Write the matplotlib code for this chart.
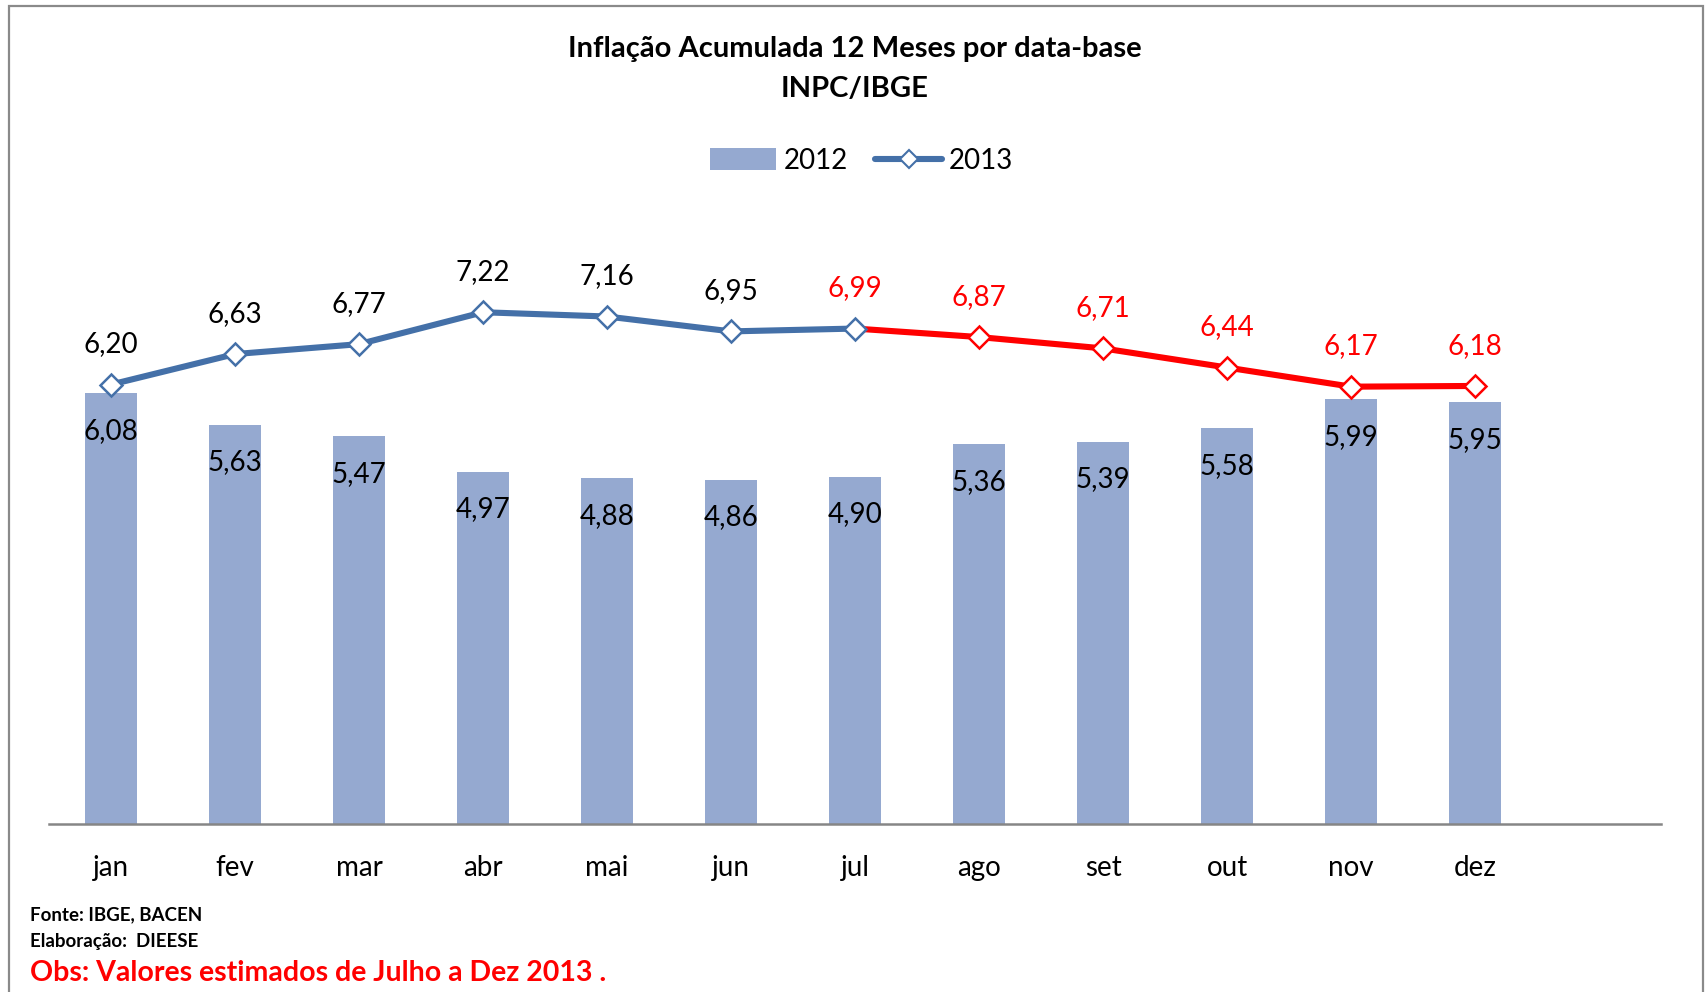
import numpy as np
import matplotlib.pyplot as plt
from matplotlib.lines import Line2D
from matplotlib.patches import Patch, Rectangle

plt.rcParams['font.family'] = ['Lato', 'DejaVu Sans']

meses = ['jan', 'fev', 'mar', 'abr', 'mai', 'jun', 'jul', 'ago', 'set', 'out', 'nov', 'dez']
inpc_2012 = [6.08, 5.63, 5.47, 4.97, 4.88, 4.86, 4.90, 5.36, 5.39, 5.58, 5.99, 5.95]
inpc_2013 = [6.20, 6.63, 6.77, 7.22, 7.16, 6.95, 6.99, 6.87, 6.71, 6.44, 6.17, 6.18]
inicio_estimado = 6  # julho

azul_barra = '#95a9d0'
azul_linha = '#4470a8'
vermelho = '#ff0000'

def fmt(v):
    return f'{v:.2f}'.replace('.', ',')

fig = plt.figure(figsize=(17.06, 9.92), dpi=100)
ax = fig.add_axes([0.0287, 0.1694, 0.945, 0.643])

x = np.arange(len(meses))
ax.bar(x, inpc_2012, width=0.42, color=azul_barra, zorder=2)

# parte observada (azul) e estimada (vermelho)
k = inicio_estimado
ax.plot(x[:k + 1], inpc_2013[:k + 1], color=azul_linha, lw=4.4, zorder=3, solid_capstyle='round')
ax.plot(x[k:], inpc_2013[k:], color=vermelho, lw=4.4, zorder=3, solid_capstyle='round')
ax.plot(x[:k + 1], inpc_2013[:k + 1], ls='none', marker='D', ms=11, mfc='white',
        mec=azul_linha, mew=1.8, zorder=4)
ax.plot(x[k + 1:], inpc_2013[k + 1:], ls='none', marker='D', ms=11, mfc='white',
        mec=vermelho, mew=1.8, zorder=4)

for i, v in enumerate(inpc_2012):
    ax.annotate(fmt(v), (x[i], v), xytext=(0, -27), textcoords='offset points',
                ha='center', va='center', fontsize=20, color='black', zorder=5)
for i, v in enumerate(inpc_2013):
    cor = vermelho if i >= k else 'black'
    ax.annotate(fmt(v), (x[i], v), xytext=(0, 29), textcoords='offset points',
                ha='center', va='center', fontsize=20, color=cor, zorder=5)

ax.set_xlim(-0.5, 12.5)
ax.set_ylim(0, 9)
ax.set_xticks(x)
ax.set_xticklabels(meses, fontsize=20)
ax.tick_params(axis='x', length=0, pad=22)
ax.set_yticks([])
for s in ['top', 'right', 'left']:
    ax.spines[s].set_visible(False)
ax.spines['bottom'].set_color('#868686')
ax.spines['bottom'].set_linewidth(1.8)
ax.spines['bottom'].set_zorder(6)

handles = [Patch(facecolor=azul_barra, edgecolor='none'),
           Line2D([0], [0], color=azul_linha, lw=4.4, marker='D', ms=9, mfc='white',
                  mec=azul_linha, mew=1.5, solid_capstyle='round')]
fig.legend(handles, ['2012', '2013'], loc='center', bbox_to_anchor=(0.505, 0.838),
           ncol=2, frameon=False, fontsize=20, handlelength=2.4, handleheight=0.8,
           handletextpad=0.25, columnspacing=1.0)

fig.text(0.501, 0.951, 'Inflação Acumulada 12 Meses por data-base', ha='center', va='center',
         fontsize=21, fontweight='bold')
fig.text(0.501, 0.910, 'INPC/IBGE', ha='center', va='center', fontsize=21, fontweight='bold')

fig.text(0.0176, 0.078, 'Fonte: IBGE, BACEN', ha='left', va='center', fontsize=13.5, fontweight='bold')
fig.text(0.0176, 0.051, 'Elaboração:  DIEESE', ha='left', va='center', fontsize=13.5, fontweight='bold')
fig.text(0.0176, 0.019, 'Obs: Valores estimados de Julho a Dez 2013 .', ha='left', va='center',
         fontsize=20.5, fontweight='bold', color=vermelho)

# moldura do gráfico
fig.patches.append(Rectangle((0.0053, -0.01), 0.993, 1.004, transform=fig.transFigure,
                             fill=False, edgecolor='#8a8a8a', lw=1.6))

fig.savefig('out.png', dpi=100)
